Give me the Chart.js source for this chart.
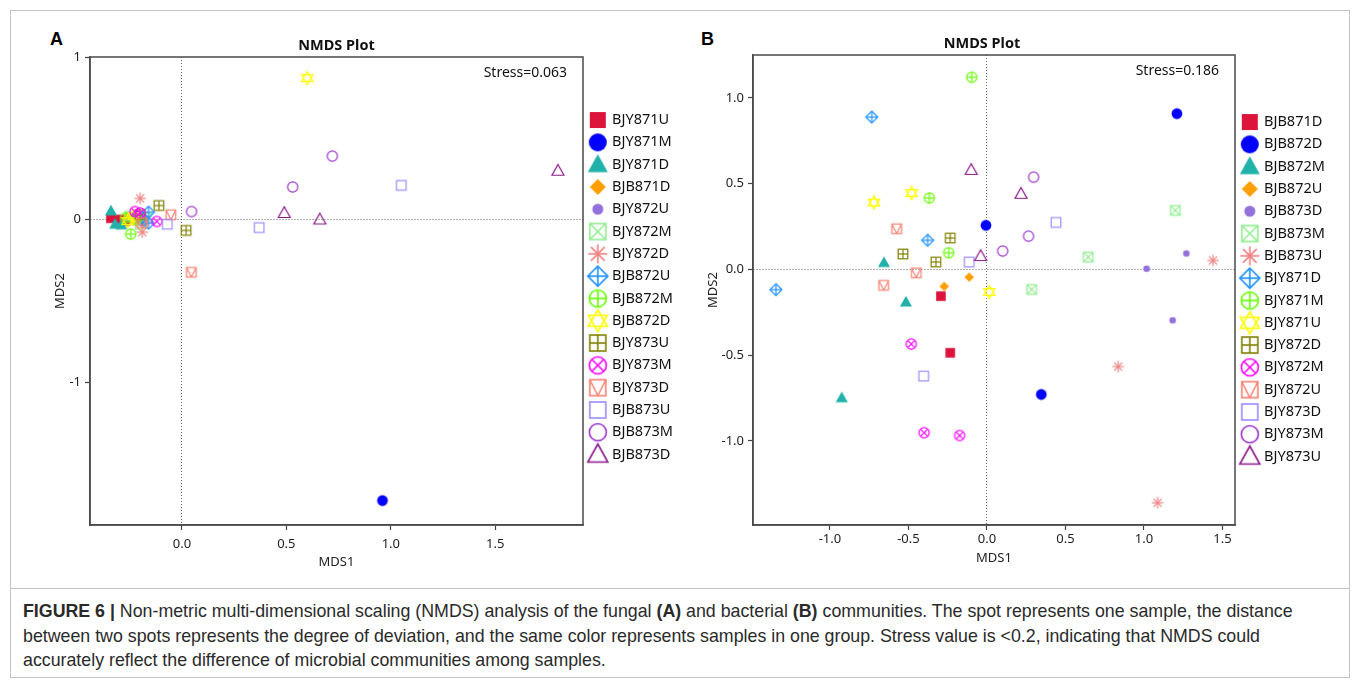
<!DOCTYPE html>
<html>
<head>
<meta charset="utf-8">
<script src="https://cdn.jsdelivr.net/npm/chart.js@4.4.0/dist/chart.umd.min.js"></script>
<style>
html, body { margin: 0; padding: 0; background: #fff; }
#page { position: relative; width: 1360px; height: 680px; overflow: hidden; }
.frame { position: absolute; left: 10px; top: 10px; width: 1340px; height: 668px; border: 1px solid #c4c4c4; box-sizing: border-box; }
.sep { position: absolute; left: 10px; top: 588px; width: 1340px; height: 1px; background: #c4c4c4; }
canvas { position: absolute; }
.letter { position: absolute; font: bold 18px "Liberation Sans", Arial, sans-serif; color: #000; }
.caption { position: absolute; left: 23px; top: 599px; font: 17.8px/24.5px "Liberation Sans", Arial, sans-serif; color: #2a2a2a; white-space: nowrap; }
</style>
</head>
<body>
<div id="page">
  <div class="frame"></div>
  <div class="sep"></div>
  <div class="letter" style="left:50px;top:29px;">A</div>
  <div class="letter" style="left:701px;top:29px;">B</div>
  <canvas id="chartA" width="658" height="570" style="left:20px;top:20px;"></canvas>
  <canvas id="chartB" width="647" height="570" style="left:683px;top:20px;"></canvas>
  <div class="caption"><b>FIGURE 6 |</b> Non-metric multi-dimensional scaling (NMDS) analysis of the fungal <b>(A)</b> and bacterial <b>(B)</b> communities. The spot represents one sample, the distance<br>between two spots represents the degree of deviation, and the same color represents samples in one group. Stress value is &lt;0.2, indicating that NMDS could<br>accurately reflect the difference of microbial communities among samples.</div>
</div>
<script>
// groups (legend order)
const groupsA = ['BJY871U', 'BJY871M', 'BJY871D', 'BJB871D', 'BJY872U', 'BJY872M', 'BJY872D', 'BJB872U',
                 'BJB872M', 'BJB872D', 'BJY873U', 'BJY873M', 'BJY873D', 'BJB873U', 'BJB873M', 'BJB873D'];
const groupsB = ['BJB871D', 'BJB872D', 'BJB872M', 'BJB872U', 'BJB873D', 'BJB873M', 'BJB873U', 'BJY871D',
                 'BJY871M', 'BJY871U', 'BJY872D', 'BJY872M', 'BJY872U', 'BJY873D', 'BJY873M', 'BJY873U'];

// panel A (fungal) - MDS1 / MDS2 per group
const mds1A = [
  [-0.34, -0.30, -0.27], [0.96, -0.22, -0.19], [-0.34, -0.32, -0.29], [-0.26, -0.23, -0.20],
  [-0.24, -0.21, -0.18], [-0.25, -0.20, -0.17], [-0.20, -0.19, -0.22], [-0.16, -0.16, -0.19],
  [-0.245, -0.27, -0.22], [0.60, -0.26, -0.23], [-0.11, 0.02, -0.20], [-0.225, -0.12, -0.20],
  [-0.053, 0.045, -0.19], [1.05, 0.37, -0.07], [0.72, 0.53, 0.046], [1.80, 0.49, 0.66]
];
const mds2A = [
  [0.008, 0.0, -0.01], [-1.73, 0.02, -0.01], [0.053, -0.029, -0.033], [0.02, -0.01, 0.0],
  [0.0, 0.03, -0.02], [0.02, -0.03, 0.01], [0.13, -0.078, -0.01], [0.045, -0.023, 0.01],
  [-0.09, 0.01, 0.0], [0.87, -0.01, 0.02], [0.086, -0.067, 0.03], [0.049, -0.012, 0.04],
  [0.029, -0.325, -0.02], [0.21, -0.05, -0.029], [0.39, 0.20, 0.049], [0.30, 0.04, 0.0]
];

// panel B (bacterial)
const mds1B = [
  [-0.293, -0.234], [-0.006, 1.21, 0.346], [-0.656, -0.516, -0.925], [-0.272, -0.113],
  [1.27, 1.017, 1.183], [1.20, 0.645, 0.285], [1.44, 0.836, 1.087], [-0.734, -0.378, -1.344],
  [-0.097, -0.367, -0.244], [-0.72, -0.48, 0.015], [-0.234, -0.535, -0.325], [-0.482, -0.40, -0.174],
  [-0.575, -0.45, -0.658], [-0.113, 0.44, -0.403], [0.297, 0.265, 0.10], [-0.10, 0.217, -0.04]
];
const mds2B = [
  [-0.156, -0.486], [0.257, 0.908, -0.729], [0.04, -0.19, -0.748], [-0.099, -0.045],
  [0.093, 0.004, -0.297], [0.344, 0.072, -0.117], [0.052, -0.566, -1.36], [0.888, 0.17, -0.118],
  [1.12, 0.416, 0.097], [0.39, 0.445, -0.132], [0.183, 0.09, 0.043], [-0.435, -0.952, -0.968],
  [0.237, -0.02, -0.093], [0.043, 0.274, -0.622], [0.538, 0.194, 0.107], [0.58, 0.441, 0.078]
];

// tick labels
const xTicksA = [0, 0.5, 1, 1.5];
const yTicksA = [-1, 0, 1];
const xTicksB = [-1, -0.5, 0, 0.5, 1, 1.5];
const yTicksB = [-1, -0.5, 0, 0.5, 1];

// marker look, same order in both legends
const colors = ['#dc143c', '#0000ff', '#20b2aa', '#ff9f00', '#9370db', '#90ee90', '#f08080', '#1e90ff',
                '#66ff00', '#ffff00', '#808000', '#ff00ff', '#fa8072', '#9a8cff', '#9932cc', '#8b1a8b'];
const shapes = ['sqF', 'cirF', 'triF', 'diaF', 'dot', 'sqX', 'ast', 'diaP',
                'cirP', 'star', 'sqP', 'cirX', 'sqV', 'sq', 'cir', 'tri'];

function marker(shape, color, s, lw) {
  const c = document.createElement('canvas');
  const n = Math.ceil(s * 1.3) + 4;
  c.width = c.height = n;
  const g = c.getContext('2d');
  const m = n / 2, r = s / 2;
  g.strokeStyle = color; g.fillStyle = color; g.lineWidth = lw;
  const ln = (x1, y1, x2, y2) => { g.beginPath(); g.moveTo(m + x1, m + y1); g.lineTo(m + x2, m + y2); g.stroke(); };
  const poly = (pts, fill) => {
    g.beginPath();
    pts.forEach((p, i) => i ? g.lineTo(m + p[0], m + p[1]) : g.moveTo(m + p[0], m + p[1]));
    g.closePath();
    fill ? g.fill() : g.stroke();
  };
  const q = r * 0.8;
  const sq = () => g.strokeRect(m - q, m - q, 2 * q, 2 * q);
  const cir = (rr) => { g.beginPath(); g.arc(m, m, rr, 0, Math.PI * 2); g.stroke(); };
  const triUp = [[0, -r * 1.05], [r * 1.0, r * 0.75], [-r * 1.0, r * 0.75]];
  switch (shape) {
    case 'sqF': g.fillRect(m - q, m - q, 2 * q, 2 * q); break;
    case 'cirF': g.beginPath(); g.arc(m, m, r * 0.9, 0, Math.PI * 2); g.fill(); break;
    case 'triF': poly(triUp, true); break;
    case 'diaF': poly([[0, -r * 0.8], [r * 0.8, 0], [0, r * 0.8], [-r * 0.8, 0]], true); break;
    case 'dot': g.beginPath(); g.arc(m, m, r * 0.55, 0, Math.PI * 2); g.fill(); break;
    case 'sqX': sq(); ln(-q, -q, q, q); ln(-q, q, q, -q); break;
    case 'ast': {
      const a = r * 0.95, d = a * 0.72;
      ln(-a, 0, a, 0); ln(0, -a, 0, a); ln(-d, -d, d, d); ln(-d, d, d, -d); break;
    }
    case 'diaP': {
      const a = r * 1.0;
      poly([[0, -a], [a, 0], [0, a], [-a, 0]], false); ln(-a, 0, a, 0); ln(0, -a, 0, a); break;
    }
    case 'cirP': { const a = r * 0.85; cir(a); ln(-a, 0, a, 0); ln(0, -a, 0, a); break; }
    case 'star':
      poly([[0, -r * 1.1], [r * 0.95, r * 0.55], [-r * 0.95, r * 0.55]], false);
      poly([[0, r * 1.1], [r * 0.95, -r * 0.55], [-r * 0.95, -r * 0.55]], false);
      break;
    case 'sqP': sq(); ln(-q, 0, q, 0); ln(0, -q, 0, q); break;
    case 'cirX': { const a = r * 0.85, d = a * 0.707; cir(a); ln(-d, -d, d, d); ln(-d, d, d, -d); break; }
    case 'sqV': sq(); ln(-q, -q, 0, q); ln(q, -q, 0, q); break;
    case 'sq': sq(); break;
    case 'cir': cir(r * 0.85); break;
    case 'tri': poly(triUp, false); break;
  }
  return c;
}

const decor = {
  id: 'decor',
  afterDraw(chart, args, o) {
    const { ctx, chartArea: a } = chart;
    ctx.save();
    ctx.strokeStyle = '#4a4a4a';
    ctx.lineWidth = 1.5;
    ctx.strokeRect(a.left, a.top, a.width, a.height);
    ctx.fillStyle = '#111';
    ctx.textBaseline = 'middle';
    ctx.textAlign = 'center';
    ctx.font = 'bold 14.5px "Noto Sans"';
    ctx.fillText(o.title, a.left + a.width / 2 + o.titleShift, a.top - 11);
    ctx.textAlign = 'right';
    ctx.font = '14px "Noto Sans"';
    ctx.fillText(o.stress, a.right - 16, a.top + 16);
    ctx.restore();
  }
};

const tickFont = { family: 'Noto Sans', size: 13 };

function buildChart(id, groups, xs, ys, cfg) {
  // later groups are painted over earlier ones, as in the original plot
  const datasets = groups.map((name, i) => ({
    label: name,
    data: xs[i].map((x, j) => ({ x: x, y: ys[i][j] })),
    pointStyle: marker(shapes[i], colors[i], 12, 1.2),
    legendStyle: marker(shapes[i], colors[i], 20, 1.6),
    pointRadius: 6,
    order: groups.length - i,
    showLine: false
  }));
  const zeroGrid = c => (c.tick && c.tick.value === 0) ? '#666' : 'rgba(0,0,0,0)';
  return new Chart(document.getElementById(id), {
    type: 'scatter',
    data: { datasets: datasets },
    plugins: [decor],
    options: {
      responsive: false,
      animation: false,
      events: [],
      layout: { padding: { top: cfg.padTop, left: 0, right: 0, bottom: 0 } },
      scales: {
        x: {
          type: 'linear', min: cfg.xMin, max: cfg.xMax,
          afterBuildTicks: s => { s.ticks = cfg.xTicks.map(v => ({ value: v })); },
          afterFit: s => { s.height = 65; },
          ticks: { callback: v => v.toFixed(1), font: tickFont, color: '#222', padding: cfg.xTickPad, maxRotation: 0, autoSkip: false },
          grid: { color: zeroGrid, lineWidth: 1, tickColor: '#444', tickLength: 5, tickWidth: 1.2 },
          border: { color: '#4a4a4a', width: 1.5, dash: [1, 2] },
          title: { display: true, text: 'MDS1', font: tickFont, color: '#222', padding: { top: 0, bottom: cfg.xTitlePad } }
        },
        y: {
          type: 'linear', min: cfg.yMin, max: cfg.yMax,
          afterBuildTicks: s => { s.ticks = cfg.yTicks.map(v => ({ value: v })); },
          afterFit: s => { s.width = 70; },
          ticks: { callback: v => v.toFixed(cfg.yDigits), font: tickFont, color: '#222', padding: 4, autoSkip: false },
          grid: { color: zeroGrid, lineWidth: 1, tickColor: '#444', tickLength: 5, tickWidth: 1.2 },
          border: { color: '#4a4a4a', width: 1.5, dash: [1, 2] },
          title: { display: true, text: 'MDS2', font: tickFont, color: '#222', padding: { top: cfg.yTitlePad, bottom: 0 } }
        }
      },
      plugins: {
        tooltip: { enabled: false },
        decor: { title: 'NMDS Plot', stress: cfg.stress, titleShift: cfg.titleShift },
        legend: {
          position: 'right', align: 'start', fullSize: false, maxWidth: 95,
          title: { display: true, text: ' ', color: 'rgba(0,0,0,0)', font: { size: 10 }, padding: { top: 0, bottom: cfg.legendOffset } },
          labels: {
            usePointStyle: true, pointStyleWidth: 14, padding: 7.8, color: '#111',
            font: { family: 'Noto Sans', size: 14.5 },
            generateLabels: chart => chart.data.datasets.map((d, i) => ({
              text: d.label, pointStyle: d.legendStyle, fillStyle: colors[i], strokeStyle: colors[i],
              lineWidth: 0, hidden: false, datasetIndex: i, fontColor: '#111'
            }))
          }
        }
      }
    }
  });
}

buildChart('chartA', groupsA, mds1A, mds2A, {
  xMin: -0.44, xMax: 1.92, yMin: -1.88, yMax: 1.0, xTicks: xTicksA, yTicks: yTicksA, yDigits: 0,
  padTop: 37, yTitlePad: 32, legendOffset: 36, xTickPad: 6, xTitlePad: 20,
  stress: 'Stress=0.063', titleShift: 0
});
buildChart('chartB', groupsB, mds1B, mds2B, {
  xMin: -1.49, xMax: 1.58, yMin: -1.49, yMax: 1.25, xTicks: xTicksB, yTicks: yTicksB, yDigits: 1,
  padTop: 35, yTitlePad: 22, legendOffset: 40, xTickPad: 1, xTitlePad: 24,
  stress: 'Stress=0.186', titleShift: -12
});
</script>
</body>
</html>
